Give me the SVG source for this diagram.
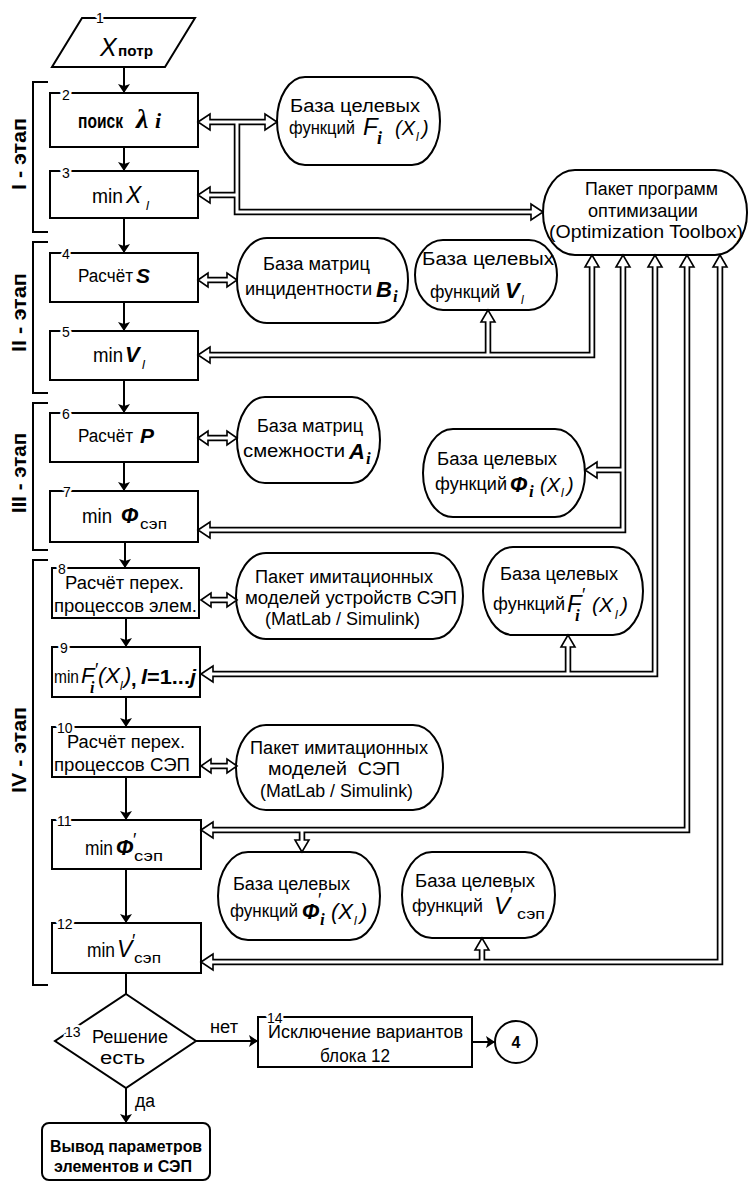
<svg xmlns="http://www.w3.org/2000/svg" width="750" height="1182" viewBox="0 0 750 1182">
<style>
.s{fill:#fff;stroke:#000;stroke-width:2}
.t{font-family:'Liberation Sans',Arial,sans-serif;fill:#000}
.c{text-anchor:middle}
.it{font-style:italic}
.bi{font-style:italic;font-weight:bold}
.sr{font-family:'Liberation Serif','Times New Roman',serif;font-style:italic;font-weight:bold}
.n{stroke:#fff;stroke-width:5;paint-order:stroke;stroke-linejoin:round}
.st{font-weight:bold}
.ln{fill:none;stroke:#000;stroke-width:2}
.pb{fill:none;stroke:#000;stroke-width:6.5;stroke-linejoin:miter}
.pw{fill:none;stroke:#fff;stroke-width:3;stroke-linejoin:miter}
.ah{fill:#fff;stroke:#000;stroke-width:1.6;stroke-linejoin:miter}
</style>
<defs>
<marker id="a" viewBox="0 0 9 12" refX="9" refY="6" markerWidth="9" markerHeight="12" markerUnits="userSpaceOnUse" orient="auto">
<path d="M0,0 L9,6 L0,12 L2,6 z" fill="#000"/>
</marker>
</defs>
<rect width="750" height="1182" fill="#fff"/>

<g id="stages" font-size="20">
<path class="ln" d="M48,82 H33 V232 H48"/>
<path class="ln" d="M48,242 H33 V393 H48"/>
<path class="ln" d="M48,403 H33 V550 H48"/>
<path class="ln" d="M48,560 H33 V985 H48"/>
<text class="t st" transform="translate(26,190) rotate(-90)" textLength="72" lengthAdjust="spacingAndGlyphs">I - этап</text>
<text class="t st" transform="translate(26,352) rotate(-90)" textLength="79" lengthAdjust="spacingAndGlyphs">II - этап</text>
<text class="t st" transform="translate(26,513) rotate(-90)" textLength="80" lengthAdjust="spacingAndGlyphs">III - этап</text>
<text class="t st" transform="translate(26,793) rotate(-90)" textLength="86" lengthAdjust="spacingAndGlyphs">IV - этап</text>
</g>

<g id="nodes" font-size="18">
<g id="n1">
<polygon class="s" points="82,18 195,18 165,67 52,67"/>
<text class="t n" x="96" y="23" font-size="14">1</text>
<text class="t it" x="100" y="56" font-size="25">X</text>
<text class="t" x="118" y="56" font-size="14" font-weight="bold" textLength="35" lengthAdjust="spacingAndGlyphs">потр</text>
</g>

<g id="n2">
<rect class="s" x="50" y="93" width="148" height="54"/>
<text class="t n" x="62" y="100" font-size="14">2</text>
<text class="t" x="78" y="128" font-size="20" font-weight="bold" textLength="45" lengthAdjust="spacingAndGlyphs">поиск</text>
<text class="sr" x="136" y="128" font-size="28">λ</text>
<text class="sr" x="155" y="128" font-size="22">i</text>
</g>

<g id="n3">
<rect class="s" x="50" y="171" width="148" height="47"/>
<text class="t n" x="62" y="178" font-size="14">3</text>
<text class="t" x="92" y="203" font-size="21" textLength="31" lengthAdjust="spacingAndGlyphs">min</text>
<text class="t it" x="126" y="203" font-size="23">X</text>
<text class="t it" x="146" y="210" font-size="13">l</text>
</g>

<g id="n4">
<rect class="s" x="50" y="253" width="148" height="49"/>
<text class="t n" x="62" y="259" font-size="14">4</text>
<text class="t" x="78" y="282" textLength="55" lengthAdjust="spacingAndGlyphs">Расчёт</text>
<text class="t bi" x="136" y="283" font-size="21">S</text>
</g>

<g id="n5">
<rect class="s" x="50" y="331" width="148" height="49"/>
<text class="t n" x="62" y="337" font-size="14">5</text>
<text class="t" x="93" y="362" font-size="21" textLength="30" lengthAdjust="spacingAndGlyphs">min</text>
<text class="t bi" x="125" y="362" font-size="22">V</text>
<text class="t it" x="142" y="369" font-size="13">l</text>
</g>

<g id="n6">
<rect class="s" x="50" y="413" width="148" height="49"/>
<text class="t n" x="62" y="419" font-size="14">6</text>
<text class="t" x="78" y="442" textLength="55" lengthAdjust="spacingAndGlyphs">Расчёт</text>
<text class="t bi" x="140" y="443" font-size="21">P</text>
</g>

<g id="n7">
<rect class="s" x="50" y="491" width="148" height="51"/>
<text class="t n" x="63" y="497" font-size="14">7</text>
<text class="t" x="82" y="523" font-size="21" textLength="30" lengthAdjust="spacingAndGlyphs">min</text>
<text class="t bi" x="121" y="523" font-size="22">Ф</text>
<text class="t" x="140" y="529" font-size="15" textLength="27" lengthAdjust="spacingAndGlyphs">сэп</text>
</g>

<g id="n8">
<rect class="s" x="52" y="568" width="147" height="50"/>
<text class="t n" x="58" y="574" font-size="14">8</text>
<text class="t" x="65" y="589" textLength="119" lengthAdjust="spacingAndGlyphs">Расчёт перех.</text>
<text class="t" x="54" y="612" textLength="143" lengthAdjust="spacingAndGlyphs">процессов элем.</text>
</g>

<g id="n9">
<rect class="s" x="52" y="647" width="148" height="50"/>
<text class="t n" x="60" y="653" font-size="14">9</text>
<text class="t" x="54" y="683" font-size="18" textLength="25" lengthAdjust="spacingAndGlyphs">min</text>
<text class="t it" x="81" y="683" font-size="22">F</text>
<text class="t" x="95" y="676" font-size="18">′</text>
<text class="sr" x="90" y="693" font-size="16">i</text>
<text class="t it" x="98" y="683" font-size="22">(X</text>
<text class="t it" x="120" y="690" font-size="12">l</text>
<text class="t it" x="124" y="683" font-size="22">)</text>
<text class="t" x="131" y="686" font-size="20" font-weight="bold">,</text>
<text class="t" x="141" y="684" font-size="20" font-weight="bold" textLength="55" lengthAdjust="spacingAndGlyphs"><tspan font-style="italic">l</tspan>=1...<tspan font-style="italic">j</tspan></text>
</g>

<g id="n10">
<rect class="s" x="52" y="727" width="148" height="50"/>
<text class="t n" x="57" y="733" font-size="14">10</text>
<text class="t" x="67" y="748" textLength="118" lengthAdjust="spacingAndGlyphs">Расчёт перех.</text>
<text class="t" x="54" y="771" textLength="136" lengthAdjust="spacingAndGlyphs">процессов СЭП</text>
</g>

<g id="n11">
<rect class="s" x="52" y="820" width="149" height="49"/>
<text class="t n" x="57" y="826" font-size="14">11</text>
<text class="t" x="85" y="855" font-size="21" textLength="28" lengthAdjust="spacingAndGlyphs">min</text>
<text class="t bi" x="116" y="855" font-size="22">Ф</text>
<text class="t" x="133" y="846" font-size="18">′</text>
<text class="t" x="134" y="861" font-size="15" textLength="29" lengthAdjust="spacingAndGlyphs">сэп</text>
</g>

<g id="n12">
<rect class="s" x="52" y="923" width="149" height="50"/>
<text class="t n" x="57" y="929" font-size="14">12</text>
<text class="t" x="87" y="957" font-size="21" textLength="28" lengthAdjust="spacingAndGlyphs">min</text>
<text class="t it" x="117" y="957" font-size="23">V</text>
<text class="t" x="132" y="947" font-size="18">′</text>
<text class="t" x="134" y="963" font-size="15" textLength="27" lengthAdjust="spacingAndGlyphs">сэп</text>
</g>

<g id="n13">
<polygon class="s" points="126,994 196,1041 126,1088 55,1041"/>
<text class="t n" x="65" y="1037" font-size="14">13</text>
<text class="t" x="92" y="1043" textLength="76" lengthAdjust="spacingAndGlyphs">Решение</text>
<text class="t" x="100" y="1064" textLength="45" lengthAdjust="spacingAndGlyphs">есть</text>
</g>

<g id="n14">
<rect class="s" x="258" y="1017" width="214" height="50"/>
<text class="t n" x="267" y="1023" font-size="14">14</text>
<text class="t" x="268" y="1038" textLength="195" lengthAdjust="spacingAndGlyphs">Исключение вариантов</text>
<text class="t" x="320" y="1062" textLength="70" lengthAdjust="spacingAndGlyphs">блока 12</text>
</g>

<g id="n4ref">
<circle class="s" cx="516" cy="1042" r="21"/>
<text class="t c" x="516" y="1048" font-size="16" font-weight="bold">4</text>
</g>

<g id="nout">
<rect class="s" x="42" y="1123" width="168" height="57" rx="7"/>
<text class="t" x="50" y="1152" font-size="16" font-weight="bold" textLength="152" lengthAdjust="spacingAndGlyphs">Вывод параметров</text>
<text class="t" x="54" y="1172" font-size="16" font-weight="bold" textLength="138" lengthAdjust="spacingAndGlyphs">элементов и СЭП</text>
</g>

<g id="dbF">
<rect class="s" x="277" y="77" width="163" height="88" rx="28" ry="44"/>
<text class="t" x="290" y="112" textLength="130" lengthAdjust="spacingAndGlyphs">База целевых</text>
<text class="t" x="289" y="134" textLength="66" lengthAdjust="spacingAndGlyphs">функций</text>
<text class="t it" x="363" y="135" font-size="24">F</text>
<text class="sr" x="377" y="144" font-size="18">i</text>
<text class="t it" x="395" y="135" font-size="20">(X</text>
<text class="t it" x="416" y="141" font-size="12">l</text>
<text class="t it" x="422" y="135" font-size="20">)</text>
</g>

<g id="pack">
<rect class="s" x="543" y="170" width="204" height="85" rx="32" ry="42"/>
<text class="t" x="585" y="195" textLength="133" lengthAdjust="spacingAndGlyphs">Пакет программ</text>
<text class="t" x="588" y="217" textLength="110" lengthAdjust="spacingAndGlyphs">оптимизации</text>
<text class="t" x="549" y="238" textLength="194" lengthAdjust="spacingAndGlyphs">(Optimization Toolbox)</text>
</g>

<g id="dbB">
<rect class="s" x="237" y="238" width="171" height="85" rx="30" ry="42"/>
<text class="t" x="263" y="270" textLength="107" lengthAdjust="spacingAndGlyphs">База матриц</text>
<text class="t" x="245" y="295" textLength="127" lengthAdjust="spacingAndGlyphs">инцидентности</text>
<text class="t bi" x="376" y="297" font-size="22">B</text>
<text class="sr" x="393" y="302" font-size="17">i</text>
</g>

<g id="dbV">
<rect class="s" x="415" y="240" width="142" height="70" rx="28" ry="35"/>
<text class="t" x="422" y="265" textLength="132" lengthAdjust="spacingAndGlyphs">База целевых</text>
<text class="t" x="430" y="298" textLength="70" lengthAdjust="spacingAndGlyphs">функций</text>
<text class="t bi" x="505" y="298" font-size="22">V</text>
<text class="t it" x="521" y="304" font-size="12">l</text>
</g>

<g id="dbA">
<rect class="s" x="237" y="397" width="143" height="86" rx="28" ry="43"/>
<text class="t" x="257" y="432" textLength="106" lengthAdjust="spacingAndGlyphs">База матриц</text>
<text class="t" x="243" y="457" textLength="102" lengthAdjust="spacingAndGlyphs">смежности</text>
<text class="t bi" x="349" y="459" font-size="22">A</text>
<text class="sr" x="366" y="464" font-size="17">i</text>
</g>

<g id="dbPhi">
<rect class="s" x="423" y="429" width="162" height="88" rx="30" ry="44"/>
<text class="t" x="437" y="465" textLength="120" lengthAdjust="spacingAndGlyphs">База целевых</text>
<text class="t" x="435" y="490" textLength="72" lengthAdjust="spacingAndGlyphs">функций</text>
<text class="t bi" x="510" y="492" font-size="22">Ф</text>
<text class="sr" x="529" y="497" font-size="17">i</text>
<text class="t it" x="540" y="492" font-size="20">(X</text>
<text class="t it" x="561" y="497" font-size="12">l</text>
<text class="t it" x="567" y="492" font-size="20">)</text>
</g>

<g id="simDev">
<rect class="s" x="236" y="553" width="227" height="86" rx="30" ry="43"/>
<text class="t" x="255" y="583" textLength="178" lengthAdjust="spacingAndGlyphs">Пакет имитационных</text>
<text class="t" x="245" y="604" textLength="212" lengthAdjust="spacingAndGlyphs">моделей устройств СЭП</text>
<text class="t" x="265" y="625" textLength="155" lengthAdjust="spacingAndGlyphs">(MatLab / Simulink)</text>
</g>

<g id="dbFp">
<rect class="s" x="483" y="547" width="160" height="88" rx="30" ry="44"/>
<text class="t" x="500" y="580" textLength="118" lengthAdjust="spacingAndGlyphs">База целевых</text>
<text class="t" x="493" y="610" textLength="72" lengthAdjust="spacingAndGlyphs">функций</text>
<text class="t it" x="567" y="612" font-size="24">F</text>
<text class="t" x="582" y="601" font-size="18">′</text>
<text class="sr" x="575" y="621" font-size="17">i</text>
<text class="t it" x="592" y="612" font-size="21">(X</text>
<text class="t it" x="615" y="619" font-size="12">l</text>
<text class="t it" x="621" y="612" font-size="21">)</text>
</g>

<g id="simSys">
<rect class="s" x="236" y="725" width="207" height="85" rx="30" ry="42"/>
<text class="t" x="250" y="754" textLength="178" lengthAdjust="spacingAndGlyphs">Пакет имитационных</text>
<text class="t" x="268" y="775" textLength="132" lengthAdjust="spacingAndGlyphs" xml:space="preserve">моделей  СЭП</text>
<text class="t" x="260" y="797" textLength="153" lengthAdjust="spacingAndGlyphs">(MatLab / Simulink)</text>
</g>

<g id="dbPhip">
<rect class="s" x="218" y="852" width="162" height="88" rx="30" ry="44"/>
<text class="t" x="233" y="890" textLength="117" lengthAdjust="spacingAndGlyphs">База целевых</text>
<text class="t" x="230" y="917" textLength="68" lengthAdjust="spacingAndGlyphs">функций</text>
<text class="t bi" x="302" y="919" font-size="22">Ф</text>
<text class="t" x="318" y="906" font-size="18">′</text>
<text class="sr" x="320" y="925" font-size="17">i</text>
<text class="t it" x="331" y="919" font-size="22">(X</text>
<text class="t it" x="354" y="925" font-size="12">l</text>
<text class="t it" x="360" y="919" font-size="22">)</text>
</g>

<g id="dbVp">
<rect class="s" x="402" y="852" width="153" height="86" rx="30" ry="43"/>
<text class="t" x="415" y="887" textLength="120" lengthAdjust="spacingAndGlyphs">База целевых</text>
<text class="t" x="412" y="912" textLength="71" lengthAdjust="spacingAndGlyphs">функций</text>
<text class="t it" x="494" y="914" font-size="24">V</text>
<text class="t" x="510" y="901" font-size="18">′</text>
<text class="t" x="517" y="919" font-size="15" textLength="28" lengthAdjust="spacingAndGlyphs">сэп</text>
</g>
</g>

<g id="connectors">
<g id="flow" font-size="18">
<path class="ln" d="M124,67 V93" marker-end="url(#a)"/>
<path class="ln" d="M124,147 V171" marker-end="url(#a)"/>
<path class="ln" d="M124,218 V253" marker-end="url(#a)"/>
<path class="ln" d="M124,302 V331" marker-end="url(#a)"/>
<path class="ln" d="M124,380 V413" marker-end="url(#a)"/>
<path class="ln" d="M124,462 V491" marker-end="url(#a)"/>
<path class="ln" d="M125,542 V568" marker-end="url(#a)"/>
<path class="ln" d="M126,618 V647" marker-end="url(#a)"/>
<path class="ln" d="M126,697 V727" marker-end="url(#a)"/>
<path class="ln" d="M126,777 V820" marker-end="url(#a)"/>
<path class="ln" d="M126,869 V923" marker-end="url(#a)"/>
<path class="ln" d="M126,973 V994"/>
<path class="ln" d="M126,1088 V1123" marker-end="url(#a)"/>
<path class="ln" d="M196,1041 H258" marker-end="url(#a)"/>
<path class="ln" d="M472,1042 H495" marker-end="url(#a)"/>
<text class="t" x="210" y="1033" textLength="28" lengthAdjust="spacingAndGlyphs">нет</text>
<text class="t" x="135" y="1107" textLength="20" lengthAdjust="spacingAndGlyphs">да</text>
</g>
<g id="pipes-outer" class="pb">
<path d="M208,122 H267"/>
<path d="M237,122 V212 H533"/>
<path d="M208,195 H237"/>
<path d="M206,280 H229"/>
<path d="M208,355 H592 V265"/>
<path d="M488,355 V320"/>
<path d="M206,438 H229"/>
<path d="M623,265 V530 H208"/>
<path d="M623,470 H595"/>
<path d="M209,600 H229"/>
<path d="M655,265 V674 H211"/>
<path d="M568,674 V645"/>
<path d="M209,766 H229"/>
<path d="M687,265 V830 H211"/>
<path d="M302,830 V842"/>
<path d="M720,265 V962 H211"/>
<path d="M482,962 V948"/>
</g>
<g id="pipe-heads" class="ah">
<polygon points="198,122 210,114 210,130"/>
<polygon points="277,122 265,114 265,130"/>
<polygon points="543,212 531,204 531,220"/>
<polygon points="198,195 210,187 210,203"/>
<polygon points="198,280 208,273 208,287"/>
<polygon points="237,280 227,273 227,287"/>
<polygon points="198,355 210,347 210,363"/>
<polygon points="592,255 585,267 599,267"/>
<polygon points="488,310 481,322 495,322"/>
<polygon points="198,438 208,431 208,445"/>
<polygon points="237,438 227,431 227,445"/>
<polygon points="623,255 616,267 630,267"/>
<polygon points="198,530 210,522 210,538"/>
<polygon points="585,470 597,462 597,478"/>
<polygon points="201,600 211,593 211,607"/>
<polygon points="237,600 227,593 227,607"/>
<polygon points="655,255 648,267 662,267"/>
<polygon points="201,674 213,666 213,682"/>
<polygon points="568,635 561,647 575,647"/>
<polygon points="201,766 211,759 211,773"/>
<polygon points="237,766 227,759 227,773"/>
<polygon points="687,255 680,267 694,267"/>
<polygon points="201,830 213,822 213,838"/>
<polygon points="302,852 295,840 309,840"/>
<polygon points="720,255 713,267 727,267"/>
<polygon points="201,962 213,954 213,970"/>
<polygon points="482,938 475,950 489,950"/>
</g>
<g id="pipes-inner" class="pw">
<path d="M208,122 H267"/>
<path d="M237,122 V212 H533"/>
<path d="M208,195 H237"/>
<path d="M206,280 H229"/>
<path d="M208,355 H592 V265"/>
<path d="M488,355 V320"/>
<path d="M206,438 H229"/>
<path d="M623,265 V530 H208"/>
<path d="M623,470 H595"/>
<path d="M209,600 H229"/>
<path d="M655,265 V674 H211"/>
<path d="M568,674 V645"/>
<path d="M209,766 H229"/>
<path d="M687,265 V830 H211"/>
<path d="M302,830 V842"/>
<path d="M720,265 V962 H211"/>
<path d="M482,962 V948"/>
</g>
</g>
</svg>
